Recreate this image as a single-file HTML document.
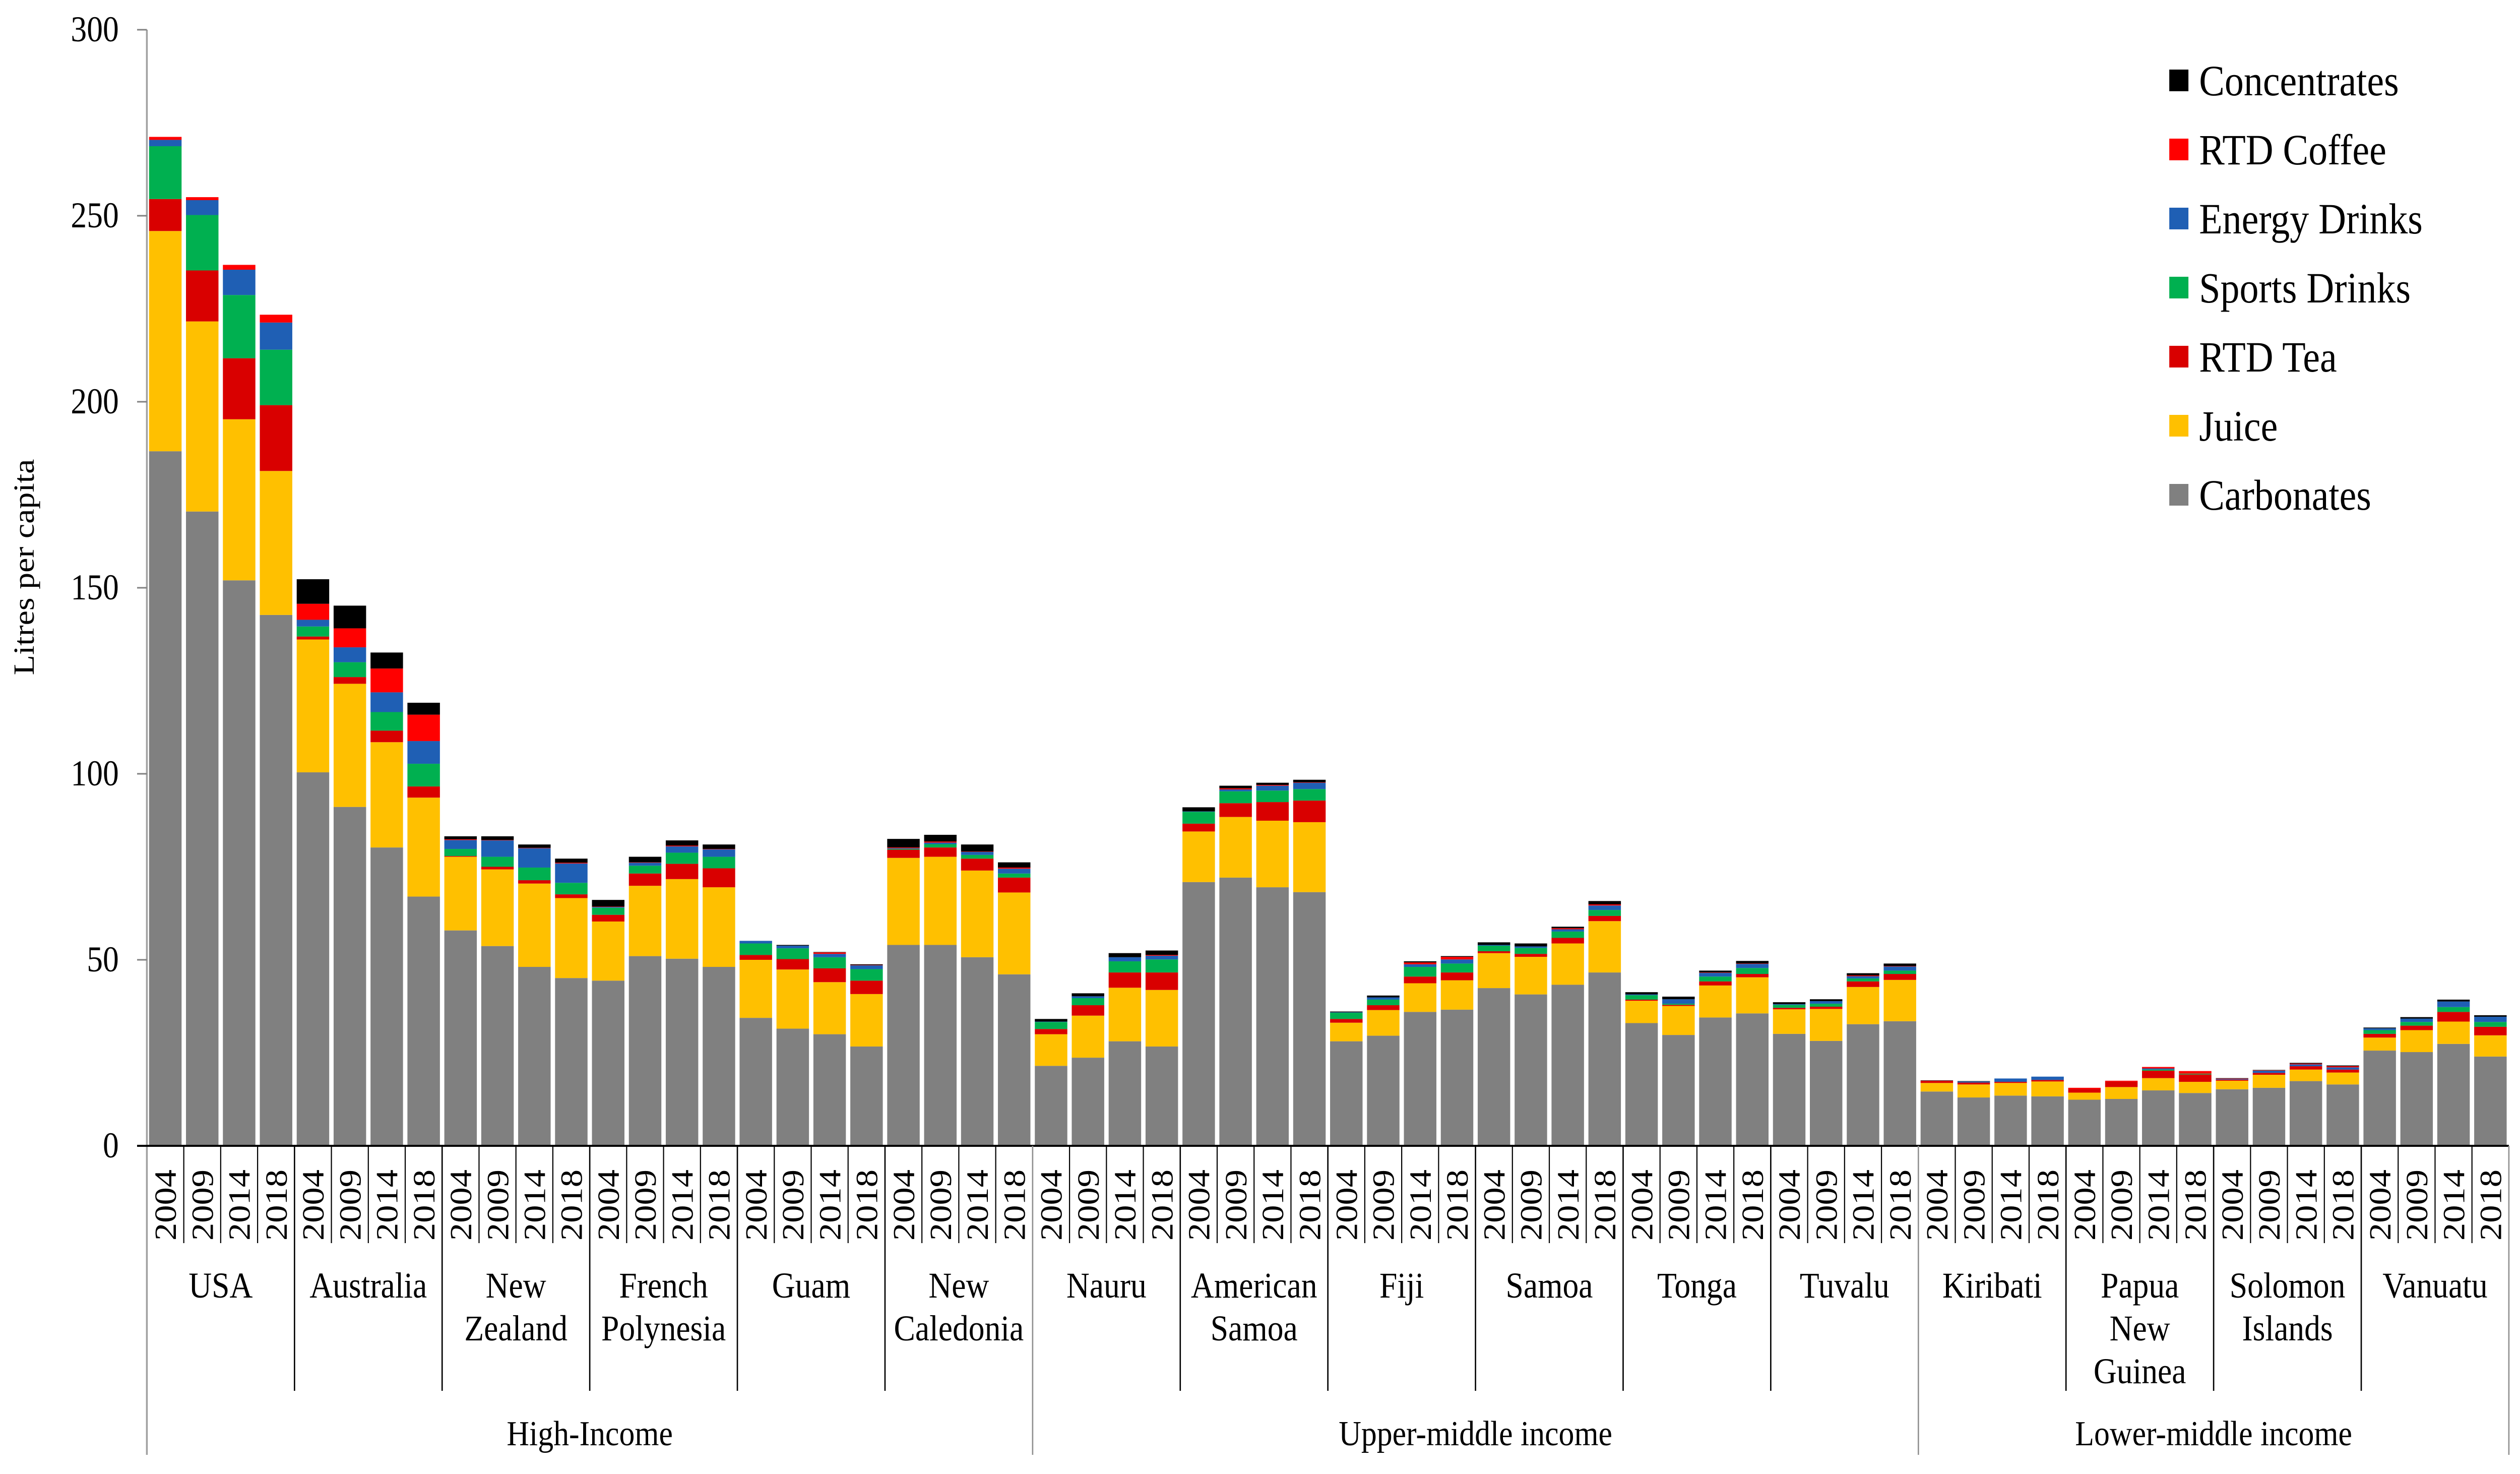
<!DOCTYPE html>
<html>
<head>
<meta charset="utf-8">
<style>
  html, body { margin: 0; padding: 0; background: #ffffff; overflow: hidden; }
  svg { display: block; width: 100vw; height: 100vh; font-family: "Liberation Serif", "Times New Roman", serif; }
</style>
</head>
<body>
<svg id="chart" viewBox="0 0 5662 2924" preserveAspectRatio="none" xmlns="http://www.w3.org/2000/svg">
  <text x="0" y="0" transform="translate(76,1125) rotate(-90)" text-anchor="middle" font-size="66" fill="#000">Litres per capita</text>
  <g id="grid-ticks"></g>
  <g id="bars"></g>
  <g id="xaxis"></g>
  <g id="legend"></g>
</svg>
<script>
// ---- data ----
const countries = ["USA","Australia","New Zealand","French Polynesia","Guam","New Caledonia","Nauru","American Samoa","Fiji","Samoa","Tonga","Tuvalu","Kiribati","Papua New Guinea","Solomon Islands","Vanuatu"];
const countryLines = [["USA"],["Australia"],["New","Zealand"],["French","Polynesia"],["Guam"],["New","Caledonia"],["Nauru"],["American","Samoa"],["Fiji"],["Samoa"],["Tonga"],["Tuvalu"],["Kiribati"],["Papua","New","Guinea"],["Solomon","Islands"],["Vanuatu"]];
const years = ["2004","2009","2014","2018"];
const incomeGroups = ["High-Income","Upper-middle income","Lower-middle income"];
const incomeGroupSizes = [6, 6, 4];
const seriesNames = ["Carbonates","Juice","RTD Tea","Sports Drinks","Energy Drinks","RTD Coffee","Concentrates"];
const seriesColors = ["#808080","#FFC000","#D90000","#00B050","#1F5FB4","#FF0000","#000000"];
const yTicks = [0,50,100,150,200,250,300];

const carbonates = [186.7,170.5,152,142.7, 100.4,91.1,80.2,67, 57.9,53.7,48.1,45.1, 44.4,51,50.3,48.1, 34.4,31.5,30,26.7, 54,54,50.7,46.1,
  21.5,23.7,28.1,26.7, 70.9,72.1,69.5,68.2, 28.1,29.6,36,36.6, 42.4,40.7,43.3,46.6, 33,29.8,34.5,35.6, 30.1,28.2,32.7,33.5,
  14.6,13,13.5,13.3, 12.4,12.6,14.9,14.2, 15.2,15.6,17.4,16.5, 25.6,25.2,27.4,24];
const juice = [59.2,51.1,43.3,38.7, 35.7,33.1,28.3,26.6, 19.8,20.6,22.4,21.5, 15.9,18.9,21.4,21.4, 15.6,15.9,14,14.1, 23.4,23.7,23.3,22,
  8.5,11.3,14.4,15.2, 13.6,16.3,17.9,18.8, 5,6.9,7.7,7.9, 9.4,10.1,11.1,13.8, 6,7.8,8.6,9.7, 6.6,8.6,10,11.1,
  2.3,3.5,3.4,4, 1.9,3.2,3.3,3, 2.3,3.5,3.1,3.2, 3.5,5.9,6,5.7];
const rtdTea = [8.6,13.7,16.4,17.7, 0.8,1.8,3.1,3, 0.2,0.7,0.9,1, 1.8,3.3,4.1,5.1, 1.3,2.8,3.7,3.6, 2.2,2.5,3.2,4,
  1.4,2.8,4.1,4.7, 2.1,3.7,5,5.8, 1,1.3,1.8,2.1, 0.5,0.8,1.5,1.4, 0.3,0.3,1.1,0.9, 0.4,0.6,1.5,1.6,
  0.6,0.5,0.3,0.4, 1,1.5,2,2, 0.3,0.5,0.9,0.8, 1,1.2,2.6,2.3];
const sports = [14.2,14.9,17,14.9, 2.7,4,5,6.1, 1.9,2.7,3.4,3.1, 1.9,2.1,3,3.1, 3.1,2.9,3,3.1, 0.2,0.9,1,1.1,
  1.9,1.9,3,3.5, 3.2,3.2,3.1,3.1, 1.7,1.5,2.6,2.4, 1.5,1.6,1.7,1.6, 1.2,0.3,1.3,1.6, 0.8,0.8,0.8,0.9,
  0,0,0,0, 0,0,0.3,0.2, 0,0,0,0, 1,1,1.3,1.3];
const energy = [1.7,4,6.8,7.3, 1.8,4,5.3,6.1, 2.4,4.4,5.2,5.2, 0.2,0.8,1.7,2, 0.7,0.7,0.9,1, 0.2,0.4,0.8,1.3,
  0.1,0.5,1.1,1, 0.1,0.5,1.3,1.7, 0.1,0.6,0.7,1.1, 0.2,0.4,0.6,1.2, 0.2,1.2,1,1.1, 0.2,0.7,0.6,1.1,
  0,0.3,0.9,0.9, 0,0,0.3,0, 0.2,0.6,0.5,0.6, 0.5,0.9,1.5,1.4];
const rtdCoffee = [0.8,0.8,1.3,2.1, 4.3,5.1,6.4,7.1, 0.2,0.1,0.1,0.2, 0.1,0.1,0.2,0.1, 0,0,0.4,0.1, 0.2,0.3,0.1,0.3,
  0,0,0,0.2, 0,0.3,0.2,0.1, 0,0,0.5,0.7, 0,0,0.3,0.3, 0,0,0.1,0.1, 0,0,0.2,0.1,
  0,0,0,0, 0.3,0.2,0.4,0.7, 0.1,0.1,0.2,0.3, 0,0,0,0];
const concentrates = [0,0,0,0, 6.6,6.1,4.3,3.2, 0.8,1,0.9,1.1, 1.8,1.5,1.4,1.2, 0,0.2,0.1,0.2, 2.3,1.8,1.9,1.4,
  0.7,0.8,1.1,1.2, 1.1,0.7,0.6,0.7, 0.2,0.5,0.3,0.2, 0.7,0.8,0.4,0.9, 0.6,0.7,0.5,0.7, 0.5,0.5,0.6,0.7,
  0.1,0.1,0,0, 0,0,0,0, 0.1,0.1,0.2,0.2, 0.2,0.4,0.5,0.4];
const seriesData = [carbonates, juice, rtdTea, sports, energy, rtdCoffee, concentrates];

// ---- layout ----
const NS = "http://www.w3.org/2000/svg";
const X0 = 330, X1 = 5637, Y0 = 2273, YTOP = 59, YMAX = 300;
const nBars = countries.length * years.length;
const slot = (X1 - X0) / nBars;
const barW = 73;
const yScale = v => Y0 - (v / YMAX) * (Y0 - YTOP);
const xSlot = i => X0 + i * slot;

function mk(tag, attrs, parent) {
  const el = document.createElementNS(NS, tag);
  for (const k in attrs) el.setAttribute(k, attrs[k]);
  parent.appendChild(el);
  return el;
}

// y axis
const gy = document.getElementById("grid-ticks");
const yAxisLine = mk("line", {x1: X0, y1: YTOP, x2: X0, y2: 2886, stroke: "#a0a0a0", "stroke-width": 4}, gy);


yTicks.forEach(t => {
  const y = yScale(t);
  const tk = mk("line", {x1: X0 - 22, y1: y, x2: X0, y2: y, stroke: "#808080", "stroke-width": 3}, gy);
  
  
  const lb = mk("text", {x: 267, y: y + 23, "text-anchor": "end", "font-size": 72, fill: "#000"}, gy);
  lb.textContent = t;
  
  
});

// bars
const gb = document.getElementById("bars");
for (let i = 0; i < nBars; i++) {
  let cum = 0;
  const cx = xSlot(i) + slot / 2;
  for (let s = 0; s < seriesData.length; s++) {
    const v = seriesData[s][i];
    if (v <= 0) { continue; }
    const yTopV = yScale(cum + v), yBot = yScale(cum);
    const r = mk("rect", {x: cx - barW / 2, y: yTopV, width: barW, height: Math.max(0, yBot - yTopV), fill: seriesColors[s]}, gb);
    
    
    cum += v;
  }
}

// x axis
const gx = document.getElementById("xaxis");
const zeroLine = mk("line", {x1: X0 - 22, y1: Y0, x2: X1, y2: Y0, stroke: "#000", "stroke-width": 4}, gx);


for (let i = 0; i < nBars; i++) {
  const cx = xSlot(i) + slot / 2;
  if (i > 0 && i % years.length !== 0) {
    const sep = mk("line", {x1: xSlot(i), y1: Y0, x2: xSlot(i), y2: 2466, stroke: "#000", "stroke-width": 2.5}, gx);
    
    
  }
  const yl = mk("text", {x: 0, y: 0, transform: `translate(${cx + 24},2461) rotate(-90)`, "font-size": 70, textLength: 141, lengthAdjust: "spacingAndGlyphs", fill: "#000"}, gx);
  yl.textContent = years[i % years.length];
  
  
}
// country separators & labels
const groupStarts = [0];
incomeGroupSizes.reduce((a, b) => { groupStarts.push(a + b); return a + b; }, 0);
for (let c = 0; c <= countries.length; c++) {
  const x = xSlot(c * years.length);
  const isGroupEdge = groupStarts.includes(c);
  if (c > 0) {
    const ln = mk("line", {x1: x, y1: Y0, x2: x, y2: isGroupEdge ? 2886 : 2759, stroke: isGroupEdge ? "#909090" : "#000", "stroke-width": 3}, gx);
    
    
  }
  if (c < countries.length) {
    const cx = x + slot * years.length / 2;
    countryLines[c].forEach((line, k) => {
      const t = mk("text", {x: cx, y: 2574 + k * 85, "text-anchor": "middle", "font-size": 72, fill: "#000"}, gx);
      t.textContent = line;
      
      
    });
  }
}
// income labels
let start = 0;
incomeGroups.forEach((g, k) => {
  const cx = xSlot(start * years.length) + slot * years.length * incomeGroupSizes[k] / 2;
  const t = mk("text", {x: cx, y: 2867, "text-anchor": "middle", "font-size": 70, fill: "#000"}, gx);
  t.textContent = g;
  
  
  start += incomeGroupSizes[k];
});

// legend
const gl = document.getElementById("legend");
const legendOrder = [6, 5, 4, 3, 2, 1, 0];
legendOrder.forEach((s, k) => {
  const cy = 159 + k * 137;
  const entry = mk("g", {}, gl);
  
  
  mk("rect", {x: 4874, y: cy - 21, width: 43, height: 43, fill: seriesColors[s]}, entry);
  const t = mk("text", {x: 4941, y: cy + 30, "font-size": 86, fill: "#000"}, entry);
  t.textContent = seriesNames[s];
});
</script>
</body>
</html>
